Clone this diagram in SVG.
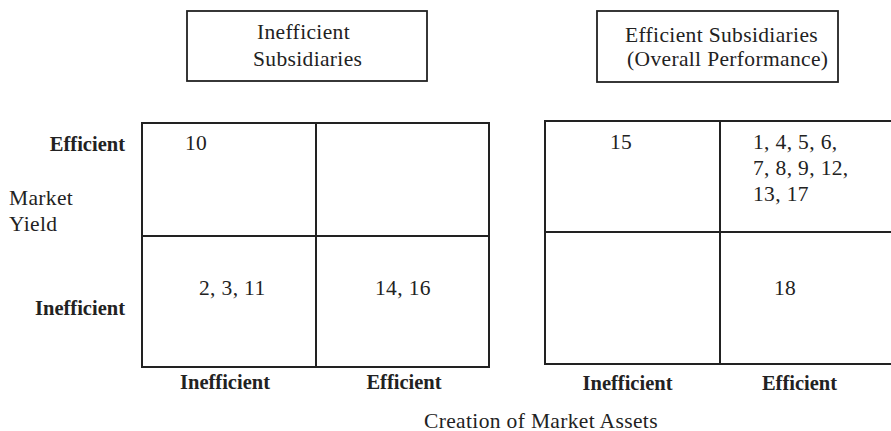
<svg xmlns="http://www.w3.org/2000/svg" width="891" height="431" viewBox="0 0 891 431">
<style>
.t{font-family:"Liberation Serif","Times New Roman",serif;font-size:21.5px;letter-spacing:0.35px;fill:#222}
.b{font-family:"Liberation Serif","Times New Roman",serif;font-size:20.5px;font-weight:bold;fill:#222}
.box{fill:none;stroke:#222;stroke-width:1.8}
.ln{fill:none;stroke:#222;stroke-width:2}
</style>
<rect width="891" height="431" fill="#fff"/>
<g id="title-inefficient">
<rect class="box" x="187" y="11" width="240" height="70"/>
<text class="t" x="257" y="39">Inefficient</text>
<text class="t" x="253" y="66">Subsidiaries</text>
</g>
<g id="title-efficient">
<rect class="box" x="597" y="11" width="241" height="71"/>
<text class="t" x="625" y="41.5">Efficient Subsidiaries</text>
<text class="t" x="627" y="66">(Overall Performance)</text>
</g>
<g id="axis-labels">
<text class="b" x="125" y="151" text-anchor="end">Efficient</text>
<text class="t" x="9" y="205">Market</text>
<text class="t" x="9" y="231">Yield</text>
<text class="b" x="125" y="315" text-anchor="end">Inefficient</text>
<text class="b" x="225" y="389" text-anchor="middle">Inefficient</text>
<text class="b" x="404" y="389" text-anchor="middle">Efficient</text>
<text class="b" x="627.5" y="390" text-anchor="middle">Inefficient</text>
<text class="b" x="799.5" y="390" text-anchor="middle">Efficient</text>
<text class="t" x="424" y="427.5">Creation of Market Assets</text>
</g>
<g id="grid-left">
<path class="ln" d="M142 123H489V367H142Z M316 123V367 M142 236H489"/>
<text class="t" x="185" y="150">10</text>
<text class="t" x="199" y="295">2, 3, 11</text>
<text class="t" x="375" y="295">14, 16</text>
</g>
<g id="grid-right">
<path class="ln" d="M891 121H545V364H891 M720 121V364 M545 232H891"/>
<text class="t" x="610" y="149">15</text>
<text class="t" x="753" y="149">1, 4, 5, 6,</text>
<text class="t" x="753" y="175">7, 8, 9, 12,</text>
<text class="t" x="753" y="200.5">13, 17</text>
<text class="t" x="774" y="295">18</text>
</g>
<g id="connectors"></g>
</svg>
